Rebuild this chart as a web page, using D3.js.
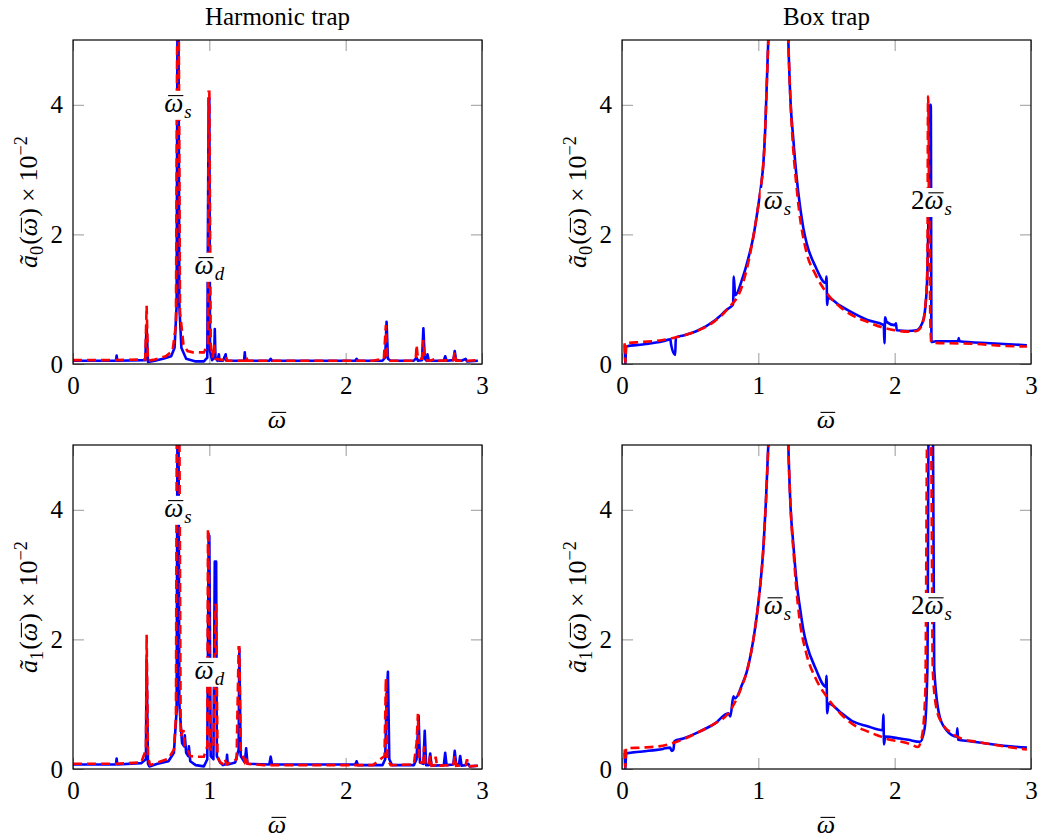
<!DOCTYPE html>
<html>
<head>
<meta charset="utf-8">
<script src="https://cdn.jsdelivr.net/npm/d3@7/dist/d3.min.js"></script>
<style>
  body { margin: 0; background: #fff; }
  text { font-family: "Liberation Serif", "DejaVu Serif", serif; fill: #000; }
</style>
</head>
<body>
<div id="chart"></div>
<script>
/* global d3 */

const xTicks = [0, 1, 2, 3];
const yTicks = [0, 2, 4];
const titles = ["Harmonic trap", "Box trap"];

// [omega, amplitude x 10^2]
const harmA0Blue = [[0,0.05],[0.30,0.05],[0.315,0.05],[0.32,0.13],[0.325,0.05],[0.53,0.06],[0.54,0.6],[0.55,0.03],[0.6,0.05],[0.66,0.08],[0.72,0.12],[0.745,0.25],[0.76,0.9],[0.77,8],[0.78,0.9],[0.795,0.25],[0.83,0.08],[0.9,0.04],[0.96,0.04],[0.985,0.1],[0.995,4.1],[1.0,4.1],[1.005,0.2],[1.02,0.06],[1.035,0.1],[1.04,0.54],[1.045,0.1],[1.06,0.05],[1.07,0.15],[1.075,0.05],[1.1,0.05],[1.12,0.15],[1.125,0.05],[1.2,0.05],[1.255,0.05],[1.26,0.18],[1.265,0.05],[1.44,0.05],[1.45,0.08],[1.46,0.05],[2.07,0.05],[2.08,0.08],[2.09,0.05],[2.27,0.05],[2.29,0.1],[2.30,0.65],[2.31,0.08],[2.33,0.05],[2.5,0.05],[2.52,0.1],[2.53,0.05],[2.56,0.06],[2.57,0.55],[2.58,0.08],[2.595,0.05],[2.60,0.15],[2.61,0.05],[2.72,0.05],[2.73,0.12],[2.74,0.05],[2.79,0.06],[2.80,0.2],[2.81,0.06],[2.85,0.05],[2.88,0.08],[2.89,0.04],[2.97,0.05]];
const harmA0Red = [[0,0.06],[0.3,0.06],[0.53,0.07],[0.54,0.9],[0.55,0.05],[0.6,0.07],[0.68,0.12],[0.73,0.2],[0.755,0.6],[0.77,8],[0.785,0.8],[0.81,0.3],[0.84,0.2],[0.88,0.18],[0.96,0.18],[0.99,0.3],[0.995,4.2],[1.0,4.2],[1.01,0.3],[1.025,0.1],[1.035,0.3],[1.045,0.08],[1.1,0.06],[1.12,0.12],[1.13,0.05],[1.2,0.05],[1.265,0.05],[1.27,0.12],[1.28,0.05],[2.2,0.05],[2.28,0.08],[2.295,0.6],[2.305,0.1],[2.32,0.05],[2.5,0.05],[2.515,0.1],[2.52,0.29],[2.53,0.08],[2.56,0.08],[2.57,0.37],[2.58,0.06],[2.62,0.05],[2.66,0.08],[2.67,0.05],[2.79,0.06],[2.80,0.18],[2.81,0.05],[2.9,0.05],[2.97,0.06]];

const boxA0Blue = [[0.02,0.3],[0.025,0.0],[0.03,0.27],[0.15,0.3],[0.3,0.35],[0.355,0.38],[0.36,0.3],[0.39,0.14],[0.395,0.41],[0.45,0.44],[0.56,0.52],[0.68,0.67],[0.77,0.84],[0.815,0.92],[0.82,1.35],[0.83,1.06],[0.88,1.3],[0.93,1.66],[0.963,1.96],[1.0,2.45],[1.02,2.75],[1.037,3.1],[1.05,3.6],[1.06,4.2],[1.073,5.0],[1.1,7],[1.15,9],[1.2,7],[1.22,5.0],[1.235,4.1],[1.257,3.46],[1.28,2.9],[1.306,2.43],[1.33,2.1],[1.355,1.86],[1.42,1.5],[1.495,1.25],[1.50,1.35],[1.505,0.91],[1.51,1.02],[1.6,0.9],[1.7,0.78],[1.8,0.68],[1.92,0.60],[1.925,0.32],[1.93,0.72],[1.94,0.65],[2.0,0.6],[2.01,0.63],[2.015,0.52],[2.1,0.51],[2.16,0.52],[2.2,0.62],[2.22,0.78],[2.24,1.4],[2.25,2.5],[2.26,4.0],[2.265,4.0],[2.27,0.34],[2.3,0.35],[2.465,0.35],[2.47,0.40],[2.475,0.35],[2.7,0.32],[2.97,0.29]];
const boxA0Red = [[0.02,0.32],[0.025,0.02],[0.03,0.32],[0.15,0.34],[0.3,0.37],[0.45,0.44],[0.56,0.52],[0.68,0.66],[0.77,0.84],[0.88,1.2],[0.93,1.6],[0.963,1.96],[1.0,2.45],[1.02,2.75],[1.037,3.1],[1.05,3.6],[1.06,4.2],[1.073,5.0],[1.1,7],[1.15,9],[1.2,7],[1.22,5.0],[1.235,4.1],[1.25,3.5],[1.275,2.85],[1.3,2.35],[1.35,1.75],[1.42,1.38],[1.5,1.1],[1.6,0.88],[1.7,0.74],[1.8,0.65],[1.9,0.57],[2.0,0.52],[2.1,0.5],[2.16,0.51],[2.2,0.6],[2.225,0.9],[2.24,1.5],[2.245,4.13],[2.255,2.2],[2.262,0.6],[2.27,0.33],[2.4,0.32],[2.6,0.31],[2.8,0.28],[2.97,0.27]];

const harmA1Blue = [[0,0.07],[0.3,0.07],[0.315,0.07],[0.32,0.16],[0.325,0.07],[0.5,0.09],[0.535,0.15],[0.54,1.68],[0.55,0.08],[0.56,0.04],[0.62,0.08],[0.7,0.12],[0.74,0.25],[0.76,0.9],[0.77,8],[0.78,1.0],[0.80,0.4],[0.815,0.35],[0.82,0.52],[0.83,0.25],[0.845,0.2],[0.85,0.35],[0.86,0.12],[0.9,0.06],[0.96,0.04],[0.985,0.15],[0.995,3.6],[1.0,3.6],[1.01,0.2],[1.03,0.15],[1.04,3.2],[1.05,3.2],[1.055,0.2],[1.08,0.1],[1.1,0.06],[1.125,0.08],[1.13,0.22],[1.135,0.07],[1.19,0.1],[1.215,0.3],[1.22,1.85],[1.23,0.2],[1.26,0.1],[1.27,0.32],[1.28,0.08],[1.44,0.07],[1.45,0.19],[1.46,0.07],[2.07,0.07],[2.08,0.12],[2.09,0.06],[2.27,0.06],[2.29,0.15],[2.30,1.1],[2.31,1.5],[2.32,0.15],[2.34,0.06],[2.5,0.06],[2.52,0.15],[2.535,0.82],[2.545,0.1],[2.57,0.08],[2.58,0.59],[2.59,0.06],[2.61,0.06],[2.62,0.24],[2.63,0.05],[2.72,0.06],[2.73,0.25],[2.74,0.06],[2.79,0.07],[2.80,0.28],[2.81,0.08],[2.83,0.06],[2.84,0.2],[2.85,0.05],[2.88,0.06],[2.9,0.08],[2.91,0.04],[2.97,0.05]];
const harmA1Red = [[0,0.08],[0.3,0.08],[0.5,0.1],[0.535,0.3],[0.54,2.07],[0.55,0.2],[0.565,0.06],[0.62,0.1],[0.7,0.16],[0.74,0.3],[0.755,0.8],[0.765,8],[0.775,8],[0.79,0.5],[0.81,0.6],[0.82,0.35],[0.84,0.3],[0.86,0.2],[0.9,0.19],[0.96,0.19],[0.985,0.35],[0.99,3.7],[0.995,3.7],[1.005,0.3],[1.03,0.3],[1.045,2.53],[1.05,2.53],[1.06,0.2],[1.08,0.1],[1.1,0.08],[1.115,0.15],[1.125,0.07],[1.2,0.15],[1.215,1.88],[1.22,1.88],[1.23,0.3],[1.26,0.12],[1.27,0.2],[1.28,0.08],[1.4,0.06],[2.2,0.06],[2.285,0.2],[2.295,1.4],[2.305,0.15],[2.33,0.06],[2.5,0.07],[2.52,0.4],[2.53,0.85],[2.54,0.1],[2.57,0.1],[2.575,0.35],[2.585,0.07],[2.61,0.06],[2.62,0.2],[2.63,0.05],[2.655,0.06],[2.66,0.19],[2.67,0.05],[2.79,0.06],[2.80,0.2],[2.81,0.05],[2.88,0.06],[2.89,0.15],[2.9,0.04],[2.97,0.05]];

const boxA1Blue = [[0.02,0.25],[0.025,0.0],[0.03,0.24],[0.15,0.27],[0.3,0.31],[0.352,0.33],[0.365,0.28],[0.377,0.30],[0.385,0.43],[0.45,0.47],[0.572,0.58],[0.68,0.7],[0.78,0.86],[0.795,0.81],[0.817,1.12],[0.83,1.09],[0.88,1.3],[0.915,1.5],[0.976,2.17],[1.01,2.75],[1.037,3.41],[1.055,4.1],[1.073,5.0],[1.1,7],[1.15,9],[1.2,7],[1.22,5.0],[1.235,4.1],[1.257,3.46],[1.28,2.9],[1.306,2.48],[1.33,2.15],[1.355,1.92],[1.42,1.55],[1.495,1.27],[1.50,1.44],[1.505,0.86],[1.515,1.01],[1.6,0.88],[1.697,0.73],[1.8,0.66],[1.912,0.6],[1.917,0.84],[1.922,0.38],[1.93,0.5],[2.04,0.47],[2.1,0.45],[2.186,0.42],[2.22,0.63],[2.24,1.55],[2.25,5.5],[2.28,5.5],[2.29,1.55],[2.33,0.81],[2.38,0.60],[2.455,0.5],[2.46,0.63],[2.465,0.45],[2.55,0.43],[2.65,0.40],[2.8,0.36],[2.97,0.33]];
const boxA1Red = [[0.02,0.3],[0.025,0.02],[0.03,0.32],[0.15,0.33],[0.3,0.36],[0.45,0.46],[0.572,0.58],[0.68,0.7],[0.78,0.86],[0.88,1.28],[0.915,1.5],[0.976,2.17],[1.01,2.75],[1.037,3.41],[1.055,4.1],[1.073,5.0],[1.1,7],[1.15,9],[1.2,7],[1.22,5],[1.24,3.9],[1.26,3.3],[1.28,2.75],[1.3,2.35],[1.35,1.8],[1.42,1.4],[1.5,1.12],[1.6,0.86],[1.7,0.68],[1.8,0.58],[1.9,0.5],[1.95,0.46],[2.05,0.42],[2.12,0.38],[2.17,0.34],[2.2,0.5],[2.225,1.2],[2.24,5.5],[2.265,5.5],[2.28,1.5],[2.31,0.9],[2.35,0.7],[2.42,0.55],[2.5,0.46],[2.6,0.42],[2.8,0.35],[2.97,0.3]];

// annotation nodes: [omega, value, prefix, subscript]
const harmMarks = [[0.77, 4.0, "", "s"], [1.0, 1.5, "", "d"]];
const boxMarks = [[1.14, 2.5, "", "s"], [2.27, 2.5, "2", "s"]];

const panels = [
  { left: 73,  top: 40,  blue: harmA0Blue, red: harmA0Red, marks: harmMarks, idx: "0", title: titles[0], smooth: false },
  { left: 622, top: 40,  blue: boxA0Blue,  red: boxA0Red,  marks: boxMarks,  idx: "0", title: titles[1], smooth: true },
  { left: 73,  top: 445, blue: harmA1Blue, red: harmA1Red, marks: harmMarks, idx: "1", smooth: false },
  { left: 622, top: 445, blue: boxA1Blue,  red: boxA1Red,  marks: boxMarks,  idx: "1", smooth: true }
];
const plotW = 409, plotH = 324;
const FS = 25;
const SERIF = '"Liberation Serif", "DejaVu Serif", serif';

const svg = d3.select("#chart").append("svg")
  .attr("width", 1038).attr("height", 838);

// lay out math pieces one after another; bar draws a macron over the piece
function mathText(parent, parts, size) {
  const g = parent.append("g");
  let cx = 0;
  parts.forEach((p) => {
    const fs = p.sub || p.sup ? size * 0.7 : size;
    const dy = p.sub ? size * 0.22 : p.sup ? -size * 0.4 : 0;
    const t = g.append("text").attr("x", cx).attr("y", dy).attr("font-size", fs)
      .attr("font-style", p.it ? "italic" : null).text(p.t);
    const w = t.node().getComputedTextLength();
    if (p.bar) {
      g.append("line").attr("x1", cx + w * 0.2).attr("x2", cx + w * 1.0)
        .attr("y1", -size * 0.6).attr("y2", -size * 0.6)
        .attr("stroke", "#000").attr("stroke-width", 1.1);
    }
    cx += w + (p.gap || 0);
  });
  return { g, width: cx };
}

function omegaParts(prefix, sub) {
  const parts = [];
  if (prefix) parts.push({ t: prefix });
  parts.push({ t: "\u03C9", it: true, bar: true, gap: 1 });
  if (sub) parts.push({ t: sub, it: true, sub: true });
  return parts;
}

function drawPanel(p, k) {
  const x = d3.scaleLinear().domain([0, 3]).range([p.left, p.left + plotW]);
  const y = d3.scaleLinear().domain([0, 5]).range([p.top + plotH, p.top]);
  const g = svg.append("g");

  const clipId = "clip" + k;
  g.append("clipPath").attr("id", clipId).append("rect")
    .attr("x", p.left).attr("y", p.top).attr("width", plotW).attr("height", plotH);

  // inward ticks on all sides
  const axes = [
    [d3.axisBottom(x).tickValues(xTicks).tickSize(-11).tickPadding(12).tickFormat(d3.format("d")), `translate(0,${p.top + plotH})`],
    [d3.axisTop(x).tickValues(xTicks).tickSize(-11).tickFormat(""), `translate(0,${p.top})`],
    [d3.axisLeft(y).tickValues(yTicks).tickSize(-11).tickPadding(10).tickFormat(d3.format("d")), `translate(${p.left},0)`],
    [d3.axisRight(y).tickValues(yTicks).tickSize(-11).tickFormat(""), `translate(${p.left + plotW},0)`]
  ];
  axes.forEach(([ax, tr]) => {
    const a = g.append("g").attr("transform", tr).call(ax);
    a.select(".domain").remove();
    a.selectAll("line").attr("stroke", "#9a9a9a").attr("stroke-width", 1);
    a.selectAll("text").style("font-family", SERIF).style("font-size", FS + "px");
  });

  const line = d3.line().x((d) => x(d[0])).y((d) => y(d[1]))
    .curve(p.smooth ? d3.curveMonotoneX : d3.curveLinear);
  const lines = g.append("g").attr("clip-path", `url(#${clipId})`);
  lines.append("path").datum(p.blue).attr("d", line)
    .attr("fill", "none").attr("stroke", "#0000ff").attr("stroke-width", 2.6)
    .attr("stroke-linejoin", "round");
  lines.append("path").datum(p.red).attr("d", line)
    .attr("fill", "none").attr("stroke", "#ff0000").attr("stroke-width", 2.6)
    .attr("stroke-dasharray", "9,5");

  g.append("rect").attr("x", p.left).attr("y", p.top).attr("width", plotW).attr("height", plotH)
    .attr("fill", "none").attr("stroke", "#000").attr("stroke-width", 1.2);

  // labels on the peaks, white behind
  p.marks.forEach((m) => {
    const node = g.append("g");
    const mt = mathText(node, omegaParts(m[2], m[3]), 27);
    mt.g.attr("transform", `translate(${x(m[0]) - mt.width / 2},${y(m[1]) + 7})`);
    node.insert("rect", "g").attr("x", x(m[0]) - mt.width / 2 - 3).attr("y", y(m[1]) - 14)
      .attr("width", mt.width + 6).attr("height", 29).attr("fill", "#fff");
  });

  // x label
  const xl = mathText(g, omegaParts("", ""), 26);
  xl.g.attr("transform", `translate(${p.left + plotW / 2 - xl.width / 2},${p.top + plotH + 64})`);

  // y label
  const yl = mathText(g, [
    { t: "\u00E3", it: true },
    { t: p.idx, sub: true, gap: 1 },
    { t: "(" },
    { t: "\u03C9", it: true, bar: true, gap: 1 },
    { t: ")", gap: 6 },
    { t: "\u00D7", gap: 6 },
    { t: "10" },
    { t: "\u22122", sup: true }
  ], 26);
  yl.g.attr("transform", `translate(${p.left - 36},${p.top + plotH / 2 + yl.width / 2}) rotate(-90)`);

  if (p.title) {
    g.append("text").attr("x", p.left + plotW / 2).attr("y", 25)
      .attr("text-anchor", "middle").attr("font-size", 25).text(p.title);
  }
}

panels.forEach(drawPanel);
</script>
</body>
</html>
